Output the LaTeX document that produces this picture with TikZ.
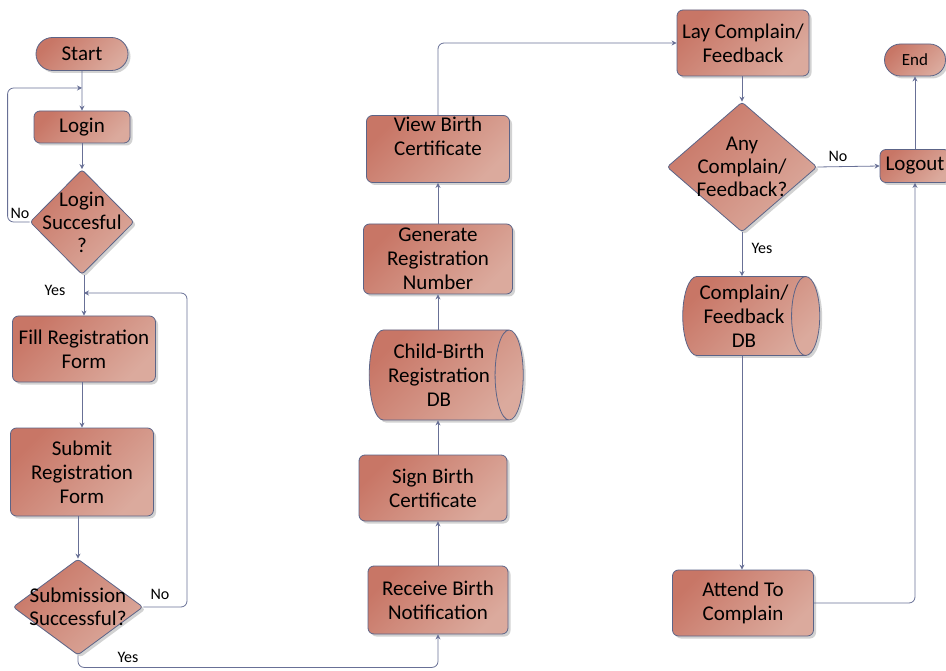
\documentclass[tikz,border=0pt]{standalone}
\usepackage{fontspec}
\setmainfont{Carlito}
\usetikzlibrary{shapes.geometric,shapes.misc,arrows.meta,shadows}

\definecolor{flowTop}{RGB}{200,118,102}
\definecolor{flowBottom}{RGB}{219,170,157}
\definecolor{flowEdge}{RGB}{92,100,135}
\definecolor{flowLine}{RGB}{104,112,150}

\tikzset{
  flowshade/.style={draw=flowEdge, line width=0.8pt, top color=flowTop, bottom color=flowBottom, shading angle=45,
    drop shadow={shadow xshift=2.5pt, shadow yshift=-2.5pt, fill=black!35, opacity=0.5}},
  flowbox/.style={flowshade, rectangle, rounded corners=6pt, align=center, inner sep=1pt,
    font=\fontsize{21}{24}\selectfont},
  flowterm/.style={flowshade, rounded rectangle, align=center, inner sep=1pt,
    font=\fontsize{21}{24}\selectfont},
  flowdb/.style={flowshade, cylinder, shape border rotate=0, aspect=0.45, align=center, inner sep=0pt,
    font=\fontsize{21}{24}\selectfont},
  flowdecide/.style={flowshade, diamond, rounded corners=3pt, inner sep=0pt},
  flowtext/.style={align=center, font=\fontsize{21}{23}\selectfont},
  flowlabel/.style={font=\fontsize{16}{18}\selectfont, inner sep=0pt},
  flowline/.style={draw=flowLine, line width=0.8pt, rounded corners=6pt, -{Stealth[length=5pt,width=5pt]}},
}

\begin{document}
\begin{tikzpicture}[x=1pt, y=-1pt]
\useasboundingbox (0,0) rectangle (946,671);
% Login column
\node[flowterm, minimum width=94pt, minimum height=33pt] (start) at (82,54) {Start};
\node[flowbox, minimum width=96pt, minimum height=32pt] (login) at (82,127) {Login};
\node[flowdecide, minimum width=104pt, minimum height=105pt,
  label={[flowtext]center:Login\\Succesful\\?}] (chklogin) at (82,222) {};
\node[flowbox, minimum width=143pt, minimum height=66pt] (fillform) at (84,349) {Fill Registration\\Form};
\node[flowbox, minimum width=143pt, minimum height=88pt] (submitform) at (82,472) {Submit\\Registration\\Form};
\node[flowdecide, minimum width=130pt, minimum height=96pt,
  label={[flowtext]center:Submission\\Successful?}] (chksubmit) at (78,607) {};
% Registration column
\node[flowbox, minimum width=140pt, minimum height=68pt] (receive) at (438,600) {Receive Birth\\Notification};
\node[flowbox, minimum width=148pt, minimum height=66pt] (sign) at (433,488) {Sign Birth\\Certificate};
\node[flowdb, minimum height=154pt, minimum width=90pt] (birthdb) at (439,375) {Child-Birth\\Registration\\DB};
\node[flowbox, minimum width=149pt, minimum height=70pt] (generate) at (438,259) {Generate\\Registration\\Number};
\node[flowbox, minimum width=143pt, minimum height=67pt, text depth=26pt] (view) at (438,149) {View Birth\\Certificate};
% Complaint column
\node[flowbox, minimum width=132pt, minimum height=66pt] (lay) at (743,43) {Lay Complain/\\Feedback};
\node[flowdecide, minimum width=150pt, minimum height=130pt,
  label={[flowtext]center:Any\\Complain/\\Feedback?}] (chkcomplain) at (742,167) {};
\node[flowdb, minimum height=137pt, minimum width=79pt] (complaindb) at (744,316) {Complain/\\Feedback\\DB};
\node[flowbox, minimum width=141pt, minimum height=66pt] (attend) at (743,603) {Attend To\\Complain};
\node[flowbox, minimum width=70pt, minimum height=33pt] (logout) at (915,166) {Logout};
\node[flowterm, minimum width=63pt, minimum height=32pt, font=\fontsize{17}{20}\selectfont] (end) at (915,60) {End};
% Branch labels
\node[flowlabel] (nologin) at (20,213) {No};
\node[flowlabel] (yeslogin) at (55,290) {Yes};
\node[flowlabel] (nosubmit) at (160,594) {No};
\node[flowlabel] (yessubmit) at (128,657) {Yes};
\node[flowlabel] (nocomplain) at (838,156) {No};
\node[flowlabel] (yescomplain) at (762,248) {Yes};
% Join points on the incoming lines
\coordinate (loginjoin) at (82,88);
\coordinate (formjoin) at (84,293);
\coordinate (nocorner) at (187,293);
% Connectors
\draw[flowline] (start) -- (login);
\draw[flowline] (login) -- (chklogin);
\draw[flowline] (chklogin.west) -- ++(-22,0) |- (loginjoin);
\draw[flowline] (chklogin.south -| fillform) -- (fillform.north);
\draw[flowline] (fillform.south -| submitform) -- (submitform.north);
\draw[flowline] (submitform.south -| chksubmit) -- (chksubmit.north);
\draw[flowline] (chksubmit.east) -| (nocorner) -- (formjoin);
\draw[flowline] (chksubmit.south) -- ++(0,12) -| (receive.south);
\draw[flowline] (receive.north) -- (receive.north |- sign.south);
\draw[flowline] (receive.north |- sign.north) -- (receive.north |- birthdb.south);
\draw[flowline] (receive.north |- birthdb.north) -- (generate.south);
\draw[flowline] (generate.north) -- (view.south);
\draw[flowline] (view.north) |- (lay.west);
\draw[flowline] (lay.south -| chkcomplain) -- (chkcomplain.north);
\draw[flowline] (chkcomplain.east) -- (logout.west);
\draw[flowline] (chkcomplain.south) -- (chkcomplain.south |- complaindb.north);
\draw[flowline] (chkcomplain.south |- complaindb.south) -- (chkcomplain.south |- attend.north);
\draw[flowline] (attend.east) -| (logout.south);
\draw[flowline] (logout.north) -- (end.south);
\end{tikzpicture}
\end{document}
